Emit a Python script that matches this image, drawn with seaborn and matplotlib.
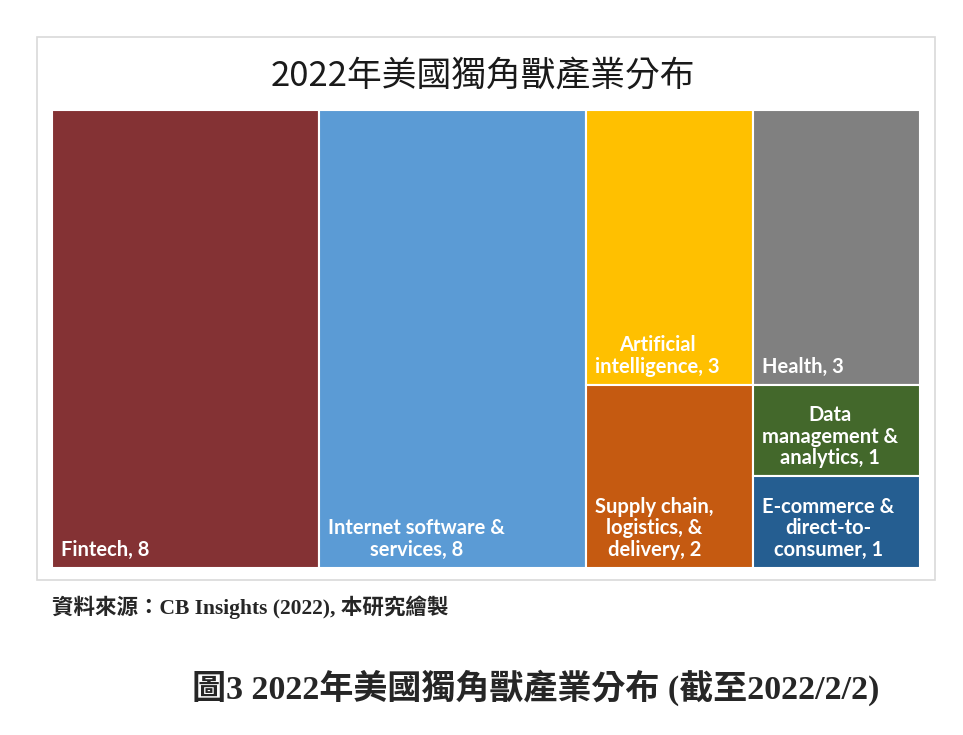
import matplotlib
matplotlib.use("Agg")
import matplotlib.pyplot as plt
from matplotlib.patches import Rectangle
import seaborn as sns

sns.set_theme(style="white")

# data
industries = ["Fintech", "Internet software &\nservices", "Artificial\nintelligence", "Health",
              "Supply chain,\nlogistics, &\ndelivery", "Data\nmanagement &\nanalytics",
              "E-commerce &\ndirect-to-\nconsumer"]
counts = [8, 8, 3, 3, 2, 1, 1]
colors = ["#843234", "#5B9BD5", "#FFC000", "#808080", "#C55A11", "#43682B", "#255E91"]

title = "2022年美國獨角獸產業分布"
source = "資料來源：CB Insights (2022), 本研究繪製"
caption = "圖3 2022年美國獨角獸產業分布 (截至2022/2/2)"


def worst(row, side):
    s = sum(row)
    return max(max(side * side * r / (s * s), s * s / (side * side * r)) for r in row)


def squarify(areas, x, y, w, h):
    # plain squarified treemap, y grows downwards
    rects = []
    areas = list(areas)
    while areas:
        side = min(w, h)
        row = [areas.pop(0)]
        while areas and worst(row + [areas[0]], side) <= worst(row, side):
            row.append(areas.pop(0))
        s = sum(row)
        if w >= h:
            cw = s / h
            yy = y
            for a in row:
                rects.append((x, yy, cw, a / cw))
                yy += a / cw
            x += cw
            w -= cw
        else:
            rh = s / w
            xx = x
            for a in row:
                rects.append((xx, y, a / rh, rh))
                xx += a / rh
            y += rh
            h -= rh
    return rects


W, H = 963, 735
fig = plt.figure(figsize=(W / 100, H / 100), dpi=100)
fig.patch.set_facecolor("white")
ax = fig.add_axes([0, 0, 1, 1])
ax.set_xlim(0, W)
ax.set_ylim(H, 0)
ax.axis("off")

# chart frame
ax.add_patch(Rectangle((37, 37), 898, 543, fill=False, edgecolor="#D9D9D9", lw=1.2))

tx, ty, tw, th = 52, 110, 868, 458
total = sum(counts)
areas = [c / total * tw * th for c in counts]
rects = squarify(areas, tx, ty, tw, th)

for (x, y, w, h), name, n, col in zip(rects, industries, counts, colors):
    ax.add_patch(Rectangle((x, y), w, h, facecolor=col, edgecolor="white", lw=1.5))
    ax.text(x + 9, y + h - 8, f"{name}, {n}", color="white", fontsize=14.5,
            fontweight="bold", family=["Lato", "DejaVu Sans"],
            ha="left", va="bottom", multialignment="center", linespacing=1.1)

ax.text(483, 76, title, fontsize=25, ha="center", va="center", color="#1a1a1a",
        family=["Noto Sans CJK TC", "DejaVu Sans"])

ax.text(52, 607, source, fontsize=15.5, ha="left", va="center", fontweight="bold",
        family=["Liberation Serif", "Noto Sans CJK TC"])

ax.text(536, 688, caption, fontsize=24.5, ha="center", va="center", fontweight="bold",
        family=["Liberation Serif", "Noto Sans CJK TC"])

fig.savefig("out.png", dpi=100, facecolor="white")
